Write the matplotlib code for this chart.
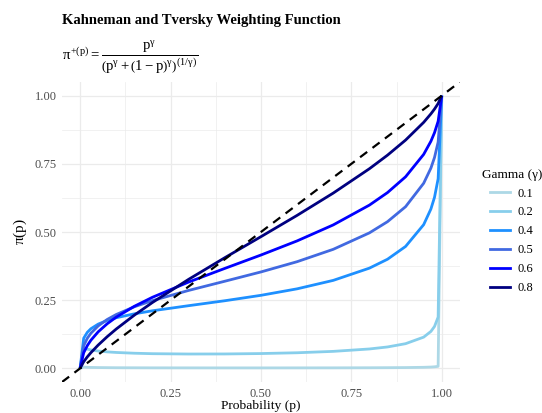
import matplotlib
matplotlib.use("Agg")
import matplotlib.pyplot as plt
from matplotlib.lines import Line2D

plt.rcParams['font.family'] = ['Liberation Serif', 'DejaVu Serif']
plt.rcParams['mathtext.fontset'] = 'custom'
plt.rcParams['mathtext.rm'] = 'Liberation Serif'
plt.rcParams['mathtext.it'] = 'Liberation Serif'
plt.rcParams['mathtext.bf'] = 'Liberation Serif:bold'

p = [0, 0.01, 0.02, 0.03, 0.05, 0.075, 0.1, 0.15, 0.2, 0.3, 0.4, 0.5,
     0.6, 0.7, 0.8, 0.85, 0.9, 0.95, 0.97, 0.98, 0.99, 1.0]

w_01 = [0, 0.0048, 0.0039, 0.0035, 0.0030, 0.0027, 0.0024, 0.0022, 0.0020, 0.0019, 0.0018, 0.0018,
        0.0019, 0.0020, 0.0023, 0.0026, 0.0030, 0.0040, 0.0049, 0.0058, 0.0075, 1.0]
w_02 = [0, 0.0751, 0.0706, 0.0676, 0.0636, 0.0605, 0.0584, 0.0556, 0.0539, 0.0527, 0.0529, 0.0544,
        0.0573, 0.0624, 0.0712, 0.0786, 0.0906, 0.1146, 0.1355, 0.1537, 0.1882, 1.0]
w_04 = [0, 0.1107, 0.1323, 0.1455, 0.1623, 0.1759, 0.1857, 0.2000, 0.2112, 0.2299, 0.2480, 0.2679,
        0.2917, 0.3227, 0.3676, 0.4002, 0.4471, 0.5270, 0.5844, 0.6274, 0.6954, 1.0]
w_05 = [0, 0.0834, 0.1105, 0.1291, 0.1557, 0.1794, 0.1976, 0.2259, 0.2485, 0.2858, 0.3195, 0.3536,
        0.3912, 0.4366, 0.4969, 0.5379, 0.5929, 0.6788, 0.7343, 0.7734, 0.8298, 1.0]
w_06 = [0, 0.0575, 0.0836, 0.1034, 0.1341, 0.1637, 0.1880, 0.2277, 0.2607, 0.3165, 0.3665, 0.4156,
        0.4674, 0.5261, 0.5987, 0.6446, 0.7025, 0.7847, 0.8328, 0.8643, 0.9061, 1.0]
w_08 = [0, 0.0246, 0.0423, 0.0578, 0.0855, 0.1163, 0.1444, 0.1952, 0.2416, 0.3264, 0.4057, 0.4829,
        0.5610, 0.6428, 0.7321, 0.7818, 0.8371, 0.9021, 0.9333, 0.9509, 0.9712, 1.0]

gammas = ['0.1', '0.2', '0.4', '0.5', '0.6', '0.8']
series = [w_01, w_02, w_04, w_05, w_06, w_08]
colors = ['#ADD8E6', '#87CEEB', '#1E90FF', '#4169E1', '#0000FF', '#000080']

x_ticks = [0, 0.25, 0.5, 0.75, 1.0]
x_tick_labels = ['0.00', '0.25', '0.50', '0.75', '1.00']

fig = plt.figure(figsize=(5.42, 4.13), dpi=100)
ax = fig.add_axes([0.1144, 0.075, 0.734, 0.7264])

for g, s, c in zip(gammas, series, colors):
    ax.plot(p, s, color=c, lw=2.0, solid_capstyle='butt', solid_joinstyle='round', zorder=3)

ax.axline((0, 0), slope=1, color='black', lw=1.6, ls=(0, (4, 3)), zorder=4)

ax.set_xlim(-0.05, 1.05)
ax.set_ylim(-0.05, 1.05)
ax.set_xticks(x_ticks)
ax.set_xticklabels(x_tick_labels)
ax.set_yticks(x_ticks)
ax.set_yticklabels(x_tick_labels)
ax.set_xticks([0.125, 0.375, 0.625, 0.875], minor=True)
ax.set_yticks([0.125, 0.375, 0.625, 0.875], minor=True)
ax.grid(which='major', color='#EBEBEB', lw=0.9)
ax.grid(which='minor', color='#EBEBEB', lw=0.5)
ax.set_axisbelow(True)
for sp in ax.spines.values():
    sp.set_visible(False)
ax.tick_params(which='both', length=0, labelsize=9, labelcolor='#4D4D4D', pad=4)

ax.set_xlabel('Probability (p)', fontsize=9.7, labelpad=0)
ax.set_ylabel(r'$\pi(\mathrm{p})$', fontsize=11, labelpad=4)

fig.text(0.1144, 0.950, 'Kahneman and Tversky Weighting Function', fontsize=10.5,
         fontweight='bold', ha='left', va='center')
fig.text(0.1144, 0.862,
         r'$\pi^{+(\mathrm{p})} = \dfrac{\mathrm{p}^{\gamma}}{\left(\mathrm{p}^{\gamma} + \left(1-\mathrm{p}\right)^{\gamma}\right)^{(1/\gamma)}}$',
         fontsize=10.6, ha='left', va='center')

handles = [Line2D([0], [0], color=c, lw=2.0) for c in colors]
leg = fig.legend(handles, gammas, title='Gamma (\u03b3)', loc='center left',
                 bbox_to_anchor=(0.868, 0.44), frameon=False, fontsize=9,
                 title_fontsize=9.5, handlelength=1.6, handletextpad=0.6,
                 labelspacing=0.55)

fig.savefig('out.png', dpi=100)
